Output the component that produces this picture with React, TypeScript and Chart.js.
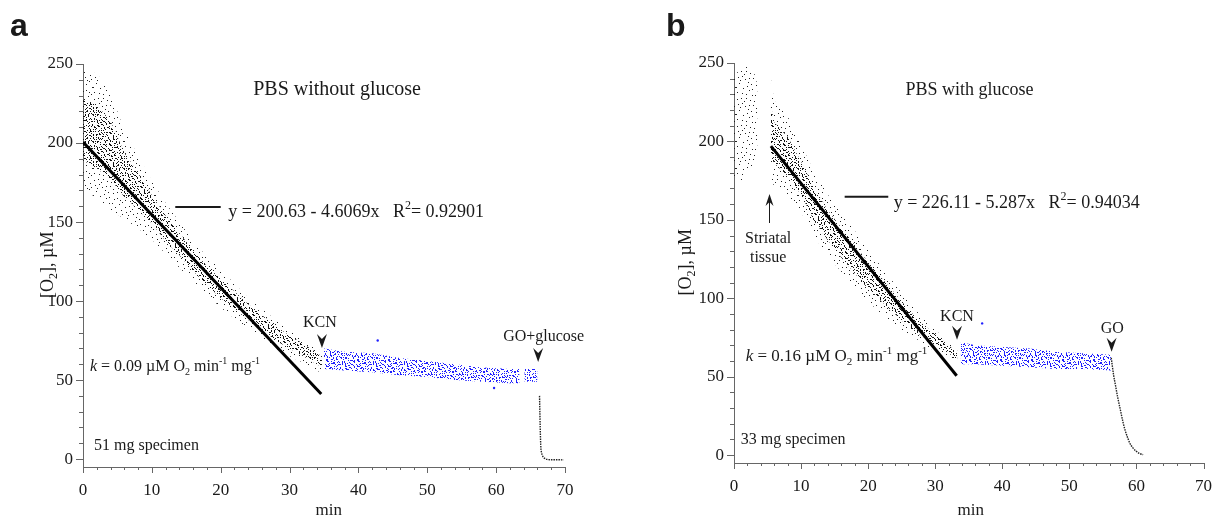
import React, { useEffect, useRef } from 'react';
import { Chart, registerables } from 'chart.js';
Chart.register(...registerables);

const SERIF = '"Liberation Serif", "Times New Roman", serif';
const SANS = '"Liberation Sans", Arial, sans-serif';
const INK = '#1a1a1a';

// ---------------- Panel a : PBS without glucose ----------------
const aCloudX = [0, 2, 4, 6, 8, 10, 12, 14, 16, 18, 20, 22, 24, 26, 28, 30, 32, 34, 34.7];
const aCloudHigh = [246, 244, 232, 208, 192, 176, 162, 150, 138, 128, 120, 111, 102, 95, 88, 82, 76, 70, 68];
const aCloudLow = [171, 165, 158, 152, 146, 139, 130, 121, 112, 104, 96, 89, 83, 77, 70, 65, 61, 56, 54];
const aCoreHigh = [227, 224, 214, 194, 181, 167, 154, 143, 132, 122, 114, 106, 98, 91, 84, 78, 73, 67, 65];
const aCoreLow = [189, 184, 177, 166, 158, 149, 138, 129, 119, 110, 102, 95, 88, 82, 75, 70, 65, 60, 58];
const aBlueX = [35, 38, 42, 46, 50, 54, 58, 62, 63.4];
const aBlueHigh = [70, 68, 67, 64, 62, 60, 58, 57, 57];
const aBlueLow = [57, 56, 55, 53, 52, 50, 49, 48, 48];
const aBlue2X = [64.1, 66.0];
const aBlue2High = [57, 57];
const aBlue2Low = [49, 49];
const aDecayX = [66.3, 66.35, 66.4, 66.45, 66.5, 66.6, 66.75, 67.0, 67.4, 68.0, 69.0, 69.8];
const aDecayY = [40, 30, 20, 12, 7, 4, 2, 0.6, -0.2, -0.4, -0.4, -0.5];
const aFitX = [0, 34.6];
const aFitY = [200.6, 41.2];
const aStrayX = [42.8, 59.7];
const aStrayY = [75, 45];

// ---------------- Panel b : PBS with glucose ----------------
const bPreX = [0, 1, 2, 3, 3.5];
const bPreHigh = [242, 246, 248, 244, 236];
const bPreLow = [178, 174, 180, 186, 192];
const bCloudX = [5.5, 6, 8, 10, 12, 14, 16, 18, 20, 22, 24, 26, 28, 30, 32, 33.3];
const bCloudHigh = [240, 226, 216, 198, 180, 166, 154, 143, 131, 120, 109, 98, 88, 80, 72, 67];
const bCloudLow = [174, 172, 166, 155, 139, 127, 117, 107, 98, 90, 83, 77, 72, 66, 62, 59];
const bCoreHigh = [223, 212, 203, 187, 170, 156, 145, 134, 123, 113, 103, 93, 84, 77, 70, 65];
const bCoreLow = [190, 186, 178, 166, 149, 137, 126, 116, 106, 98, 90, 82, 76, 70, 65, 61];
const bBlueX = [33.8, 36, 40, 44, 48, 52, 56.2];
const bBlueHigh = [72, 70, 69, 68, 66, 65, 64];
const bBlueLow = [58, 58, 57, 56, 55, 55, 54];
const bDecayX = [56.25, 56.4, 56.6, 56.9, 57.2, 57.6, 58.0, 58.3, 58.7, 59.0, 59.5, 60.0, 60.5, 61.0];
const bDecayY = [62, 57, 51, 44, 37, 29, 21, 16, 11, 7.8, 4.5, 2.4, 1.0, 0.3];
const bFitX = [5.5, 33.2];
const bFitY = [197.0, 50.6];
const bStrayX = [37];
const bStrayY = [84];

// axis ticks
const xMajor = [0, 10, 20, 30, 40, 50, 60, 70];
const yMajor = [0, 50, 100, 150, 200, 250];

// ---------------- stipple texture tiles (style only) ----------------
const TILE_A = { w: 31, h: 27, dots: [[3, 2], [12, 1], [20, 4], [27, 0], [7, 7], [16, 8], [24, 9], [1, 11], [10, 13], [19, 14], [29, 13], [5, 17], [14, 19], [22, 18], [28, 21], [2, 23], [9, 25], [17, 24], [25, 26], [11, 5], [30, 6], [6, 12], [15, 3], [21, 10], [26, 15], [0, 6], [8, 20], [18, 20], [13, 9], [23, 23], [4, 26], [29, 25], [16, 14], [1, 18], [20, 0], [27, 11], [10, 17], [24, 3], [6, 22], [13, 24]] };
const TILE_B = { w: 23, h: 19, dots: [[1, 1], [8, 0], [15, 2], [21, 1], [4, 5], [11, 4], [18, 6], [0, 9], [7, 9], [14, 8], [20, 10], [3, 13], [10, 12], [17, 13], [22, 15], [6, 16], [13, 17], [19, 18], [2, 18], [9, 15], [16, 10], [5, 2], [12, 7], [19, 3], [1, 14], [15, 15], [8, 6], [21, 7], [11, 17], [4, 10]] };

function dotPattern(tile: { w: number; h: number; dots: number[][] }, color: string, copies: number[][]) {
  const c = document.createElement('canvas');
  c.width = tile.w; c.height = tile.h;
  const g = c.getContext('2d')!;
  g.fillStyle = color;
  for (const [ox, oy] of copies) for (const [x, y] of tile.dots) g.fillRect((x + ox) % tile.w, (y + oy) % tile.h, 1, 1);
  return g.createPattern(c, 'repeat')!;
}

type Part = { t: string; it?: boolean; sup?: boolean; sub?: boolean };

function fontFor(p: Part, fs: number) {
  const size = p.sup || p.sub ? Math.round(fs * 0.64) : fs;
  return `${p.it ? 'italic ' : ''}${size}px ${SERIF}`;
}
function drawRich(ctx: CanvasRenderingContext2D, parts: Part[], x: number, y: number, fs: number, align: 'left' | 'center') {
  let w = 0;
  for (const p of parts) { ctx.font = fontFor(p, fs); w += ctx.measureText(p.t).width; }
  let cx = align === 'center' ? x - w / 2 : x;
  ctx.textAlign = 'left';
  ctx.textBaseline = 'middle';
  for (const p of parts) {
    ctx.font = fontFor(p, fs);
    const dy = p.sup ? -fs * 0.36 : p.sub ? fs * 0.32 : 0;
    ctx.fillText(p.t, cx, y + dy);
    cx += ctx.measureText(p.t).width;
  }
}
function chevron(ctx: CanvasRenderingContext2D, x: number, y: number, dir: number, w = 5, h = 14, n = 9) {
  ctx.beginPath();
  ctx.moveTo(x, y);
  ctx.lineTo(x - w, y - h * dir);
  ctx.lineTo(x, y - n * dir);
  ctx.lineTo(x + w, y - h * dir);
  ctx.closePath();
  ctx.fill();
}

const pts = (xs: number[], ys: number[]) => xs.map((x, i) => ({ x, y: ys[i] }));
function band(xs: number[], lo: number[], hi: number[], bg: any) {
  return [
    { data: pts(xs, lo), borderColor: 'transparent', borderWidth: 0, pointRadius: 0, fill: false },
    { data: pts(xs, hi), borderColor: 'transparent', borderWidth: 0, pointRadius: 0, fill: '-1', backgroundColor: bg },
  ];
}

interface Mark { text: string; at: [number, number]; tip: [number, number] }
interface PanelCfg {
  letter: string; letterX: number;
  padRight: number; padTop: number; yWidth: number; xHeight: number;
  title: string; titleAt: [number, number]; titleSize: number;
  seg: [number, number, number]; eqAt: [number, number]; eq: Part[]; eqSize: number;
  kAt: [number, number]; kParts: Part[]; kSize: number;
  spec: string; specAt: [number, number];
  marks: Mark[];
  striatal?: { at: [number, number]; arrowX: number; from: number; to: number };
  yTitleDx: number; minX: number; minY: number;
  build: () => any[];
}

function makePlugin(cfg: PanelCfg) {
  return {
    id: 'annot',
    afterDraw(chart: any) {
      const { ctx, chartArea } = chart;
      const xs = chart.scales.x, ys = chart.scales.y;
      const X = (v: number) => xs.getPixelForValue(v);
      const Y = (v: number) => ys.getPixelForValue(v);
      ctx.save();
      // tick marks
      ctx.strokeStyle = '#666';
      ctx.lineWidth = 1;
      ctx.beginPath();
      for (let v = 0; v <= 70; v += 2) {
        const px = Math.round(X(v)) + 0.5;
        const len = xMajor.includes(v) ? 6 : 3;
        ctx.moveTo(px, chartArea.bottom);
        ctx.lineTo(px, chartArea.bottom + len);
      }
      for (let v = 0; v <= 250; v += 10) {
        const py = Math.round(Y(v)) + 0.5;
        const len = yMajor.includes(v) ? 7 : 4;
        ctx.moveTo(chartArea.left, py);
        ctx.lineTo(chartArea.left - len, py);
      }
      ctx.stroke();

      ctx.fillStyle = INK;
      ctx.strokeStyle = INK;
      // panel letter
      ctx.font = `bold 32px ${SANS}`;
      ctx.textAlign = 'left';
      ctx.textBaseline = 'alphabetic';
      ctx.fillText(cfg.letter, cfg.letterX, 36);
      // title
      drawRich(ctx, [{ t: cfg.title }], X(cfg.titleAt[0]), Y(cfg.titleAt[1]), cfg.titleSize, 'center');
      // equation
      ctx.lineWidth = 2;
      ctx.beginPath();
      ctx.moveTo(X(cfg.seg[0]), Y(cfg.seg[2]));
      ctx.lineTo(X(cfg.seg[1]), Y(cfg.seg[2]));
      ctx.stroke();
      drawRich(ctx, cfg.eq, X(cfg.eqAt[0]), Y(cfg.eqAt[1]), cfg.eqSize, 'left');
      // k
      drawRich(ctx, cfg.kParts, X(cfg.kAt[0]), Y(cfg.kAt[1]), cfg.kSize, 'left');
      // specimen
      drawRich(ctx, [{ t: cfg.spec }], X(cfg.specAt[0]), Y(cfg.specAt[1]), 16, 'left');
      // marks
      for (const m of cfg.marks) {
        drawRich(ctx, [{ t: m.text }], X(m.at[0]), Y(m.at[1]), 16, 'center');
        chevron(ctx, X(m.tip[0]), Y(m.tip[1]), 1);
      }
      if (cfg.striatal) {
        const s = cfg.striatal;
        drawRich(ctx, [{ t: 'Striatal' }], X(s.at[0]), Y(s.at[1]), 16, 'center');
        drawRich(ctx, [{ t: 'tissue' }], X(s.at[0]), Y(s.at[1]) + 19, 16, 'center');
        ctx.lineWidth = 1;
        const ax = Math.round(X(s.arrowX)) + 0.5;
        ctx.beginPath();
        ctx.moveTo(ax, Y(s.from));
        ctx.lineTo(ax, Y(s.to) + 6);
        ctx.stroke();
        chevron(ctx, ax, Y(s.to), -1, 4, 12, 8);
      }
      // axis titles
      drawRich(ctx, [{ t: 'min' }], X(cfg.minX), cfg.minY, 17, 'center');
      ctx.translate(chartArea.left - cfg.yTitleDx, Y(123));
      ctx.rotate(-Math.PI / 2);
      drawRich(ctx, [{ t: '[O' }, { t: '2', sub: true }, { t: '], µM' }], 0, 0, 18, 'center');
      ctx.restore();
    },
  };
}

function makeConfig(cfg: PanelCfg): any {
  const tickFont = { family: SERIF, size: 17 };
  return {
    type: 'line',
    data: { datasets: cfg.build() },
    options: {
      animation: false,
      responsive: false,
      devicePixelRatio: 1,
      events: [],
      layout: { padding: { left: 0, right: cfg.padRight, top: cfg.padTop, bottom: 0 } },
      plugins: { legend: { display: false }, tooltip: { enabled: false } },
      elements: { line: { tension: 0 } },
      scales: {
        x: {
          type: 'linear', min: 0, max: 70,
          afterFit: (s: any) => { s.height = cfg.xHeight; },
          grid: { display: false, drawTicks: false },
          border: { display: true, color: '#666', width: 1 },
          ticks: { stepSize: 10, padding: 13, color: INK, font: tickFont, autoSkip: false, maxRotation: 0 },
        },
        y: {
          type: 'linear', min: -5, max: 250,
          afterFit: (s: any) => { s.width = cfg.yWidth; },
          grid: { display: false, drawTicks: false },
          border: { display: true, color: '#666', width: 1 },
          ticks: {
            stepSize: 50, padding: 10, color: INK, font: tickFont, autoSkip: false, includeBounds: false,
            callback: (v: number) => (yMajor.includes(v) ? String(v) : ''),
          },
        },
      },
    },
    plugins: [makePlugin(cfg)],
  };
}

const sparse = () => dotPattern(TILE_A, '#202020', [[0, 0]]);
const dense = () => dotPattern(TILE_A, '#111111', [[15, 13], [7, 20], [23, 6], [11, 3]]);
const blue = () => dotPattern(TILE_A, '#2020ff', [[0, 0], [15, 13], [7, 20], [23, 6], [11, 3], [26, 17]]);

const fitLine = (xs: number[], ys: number[]) => ({ data: pts(xs, ys), borderColor: '#000', borderWidth: 3, pointRadius: 0, fill: false });
const decay = (xs: number[], ys: number[]) => ({ data: pts(xs, ys), borderColor: '#222', borderWidth: 1.4, borderDash: [1.5, 1], pointRadius: 0, fill: false, cubicInterpolationMode: 'monotone' });
const strays = (xs: number[], ys: number[], c: string) => ({ data: pts(xs, ys), showLine: false, pointRadius: 1.2, pointBorderWidth: 0, pointBackgroundColor: c, fill: false });

const kParts = (k: string): Part[] => [
  { t: 'k', it: true }, { t: ` = ${k} µM O` }, { t: '2', sub: true }, { t: ' min' }, { t: '-1', sup: true }, { t: ' mg' }, { t: '-1', sup: true },
];
const eqParts = (e: string, r: string): Part[] => [{ t: `y = ${e}   R` }, { t: '2', sup: true }, { t: `= ${r}` }];

const panelA: PanelCfg = {
  letter: 'a', letterX: 10,
  padRight: 47, padTop: 64, yWidth: 83, xHeight: 54,
  title: 'PBS without glucose', titleAt: [36.9, 233.5], titleSize: 20,
  seg: [13.4, 20.0, 159.5], eqAt: [21.1, 156.3], eq: eqParts('200.63 - 4.6069x', '0.92901'), eqSize: 18,
  kAt: [1.0, 58.2], kParts: kParts('0.09'), kSize: 16,
  spec: '51 mg specimen', specAt: [1.6, 8.2],
  marks: [
    { text: 'KCN', at: [34.4, 86], tip: [34.7, 70.3] },
    { text: 'GO+glucose', at: [66.9, 77.2], tip: [66.1, 61.4] },
  ],
  yTitleDx: 35, minX: 35.7, minY: 511,
  build: () => [
    fitLine(aFitX, aFitY),
    decay(aDecayX, aDecayY),
    strays(aStrayX, aStrayY, '#2020ff'),
    ...band(aCloudX, aCloudLow, aCloudHigh, sparse()),
    ...band(aCloudX, aCoreLow, aCoreHigh, dense()),
    ...band(aBlueX, aBlueLow, aBlueHigh, blue()),
    ...band(aBlue2X, aBlue2Low, aBlue2High, blue()),
  ],
};

const panelB: PanelCfg = {
  letter: 'b', letterX: 54,
  padRight: 10, padTop: 63, yWidth: 122, xHeight: 58,
  title: 'PBS with glucose', titleAt: [35.1, 232.8], titleSize: 18,
  seg: [16.5, 23.0, 164.8], eqAt: [23.8, 160.8], eq: eqParts('226.11 - 5.287x', '0.94034'), eqSize: 18,
  kAt: [1.75, 62.7], kParts: kParts('0.16'), kSize: 17,
  spec: '33 mg specimen', specAt: [1.0, 9.9],
  marks: [
    { text: 'KCN', at: [33.25, 88.2], tip: [33.25, 73.6] },
    { text: 'GO', at: [56.4, 80.6], tip: [56.3, 65.9] },
  ],
  striatal: { at: [5.1, 137.9], arrowX: 5.2, from: 148, to: 166.5 },
  yTitleDx: 48, minX: 35.3, minY: 511,
  build: () => [
    fitLine(bFitX, bFitY),
    decay(bDecayX, bDecayY),
    strays(bStrayX, bStrayY, '#2020ff'),
    ...band(bPreX, bPreLow, bPreHigh, sparse()),
    ...band(bCloudX, bCloudLow, bCloudHigh, sparse()),
    ...band(bCloudX, bCoreLow, bCoreHigh, dense()),
    ...band(bBlueX, bBlueLow, bBlueHigh, blue()),
  ],
};

function Panel({ cfg, left, width }: { cfg: PanelCfg; left: number; width: number }) {
  const ref = useRef<HTMLCanvasElement>(null);
  useEffect(() => {
    const chart = new Chart(ref.current!, makeConfig(cfg));
    return () => chart.destroy();
  }, [cfg]);
  return (
    <canvas ref={ref} width={width} height={521}
      style={{ position: 'absolute', left, top: 0, width, height: 521 }} />
  );
}

export default function App() {
  return (
    <div style={{ position: 'fixed', left: 0, top: 0, width: 1225, height: 521, background: '#fff', overflow: 'hidden' }}>
      <Panel cfg={panelA} left={0} width={612} />
      <Panel cfg={panelB} left={612} width={613} />
    </div>
  );
}
